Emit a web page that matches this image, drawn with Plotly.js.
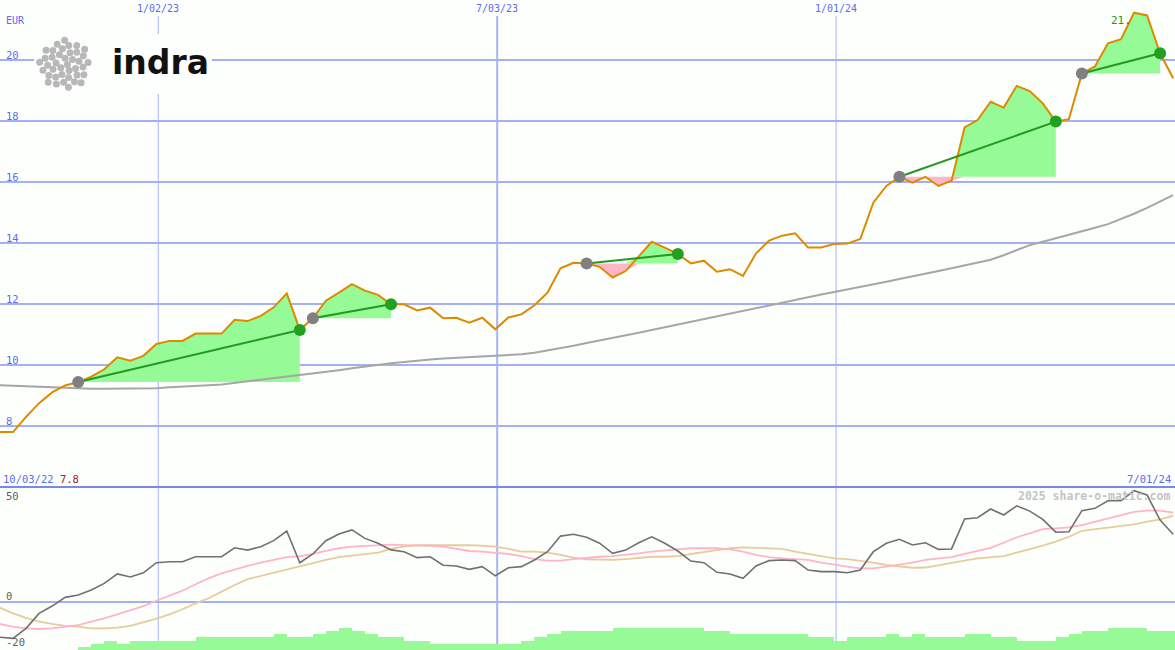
<!DOCTYPE html>
<html>
<head>
<meta charset="utf-8">
<script src="https://cdn.plot.ly/plotly-3.0.1.min.js"></script>
<style>
html,body{margin:0;padding:0;background:#fdfffd;}
#chart{width:1175px;height:650px;}
</style>
</head>
<body>
<div id="chart"></div>
<script>
// ---------- DATA ----------
const startDate = '2022-10-09';   // first weekly point
const weeks = 91;
const price = [7.80,7.80,8.30,8.75,9.10,9.33,9.44,9.62,9.86,10.25,
  10.14,10.30,10.69,10.79,10.79,11.03,11.03,11.03,11.48,11.44,
  11.61,11.89,12.35,11.15,11.53,12.11,12.37,12.65,12.44,12.30,
  11.99,11.99,11.79,11.88,11.53,11.55,11.39,11.55,11.17,11.56,
  11.66,11.96,12.37,13.17,13.35,13.33,13.22,12.87,13.08,13.55,
  14.04,13.85,13.64,13.33,13.42,13.06,13.14,12.92,13.66,14.08,
  14.24,14.32,13.85,13.85,13.97,13.98,14.13,15.32,15.87,16.17,
  15.98,16.17,15.87,16.04,17.79,18.03,18.63,18.44,19.15,18.98,
  18.58,17.98,18.06,19.56,19.79,20.55,20.68,21.55,21.46,20.22,
  19.40];
const movingAvg = [9.34,9.33,9.31,9.29,9.27,9.25,9.23,9.22,9.22,9.22,
  9.22,9.23,9.24,9.27,9.30,9.32,9.34,9.36,9.41,9.47,
  9.53,9.58,9.62,9.67,9.71,9.77,9.83,9.89,9.95,10.01,
  10.06,10.10,10.15,10.18,10.21,10.23,10.25,10.27,10.29,10.31,
  10.35,10.40,10.47,10.55,10.63,10.72,10.80,10.89,10.98,11.06,
  11.15,11.24,11.33,11.42,11.52,11.60,11.70,11.79,11.88,11.96,
  12.05,12.14,12.23,12.31,12.39,12.47,12.56,12.64,12.73,12.82,
  12.90,12.99,13.08,13.17,13.27,13.36,13.45,13.60,13.76,13.93,
  14.04,14.15,14.27,14.39,14.50,14.62,14.78,14.96,15.15,15.35,
  15.57];
const tradeEntries = [6, 24, 45, 69, 83];
const tradeExits   = [23, 30, 52, 81, 89];
const oscFast = [-15.5,-16.0,-11.6,-5.1,-1.9,1.9,2.9,5.1,8.0,12.1,
  10.8,12.6,17.0,17.4,17.4,19.6,19.6,19.6,23.5,22.5,
  24.0,26.6,30.8,17.0,20.8,26.6,29.5,31.3,27.6,25.5,
  22.6,21.8,19.2,19.6,15.9,15.6,14.1,15.3,11.3,14.8,
  15.3,18.2,21.8,28.6,29.4,28.1,25.5,21.1,22.5,25.7,
  28.3,25.5,22.1,17.7,17.0,12.8,12.1,10.2,15.6,17.9,
  18.2,17.9,13.8,13.1,13.1,12.6,13.8,21.8,25.5,27.2,
  24.7,25.7,22.8,23.0,36.1,36.6,40.4,37.8,41.8,39.5,
  35.9,30.3,30.5,39.7,40.7,44.0,44.0,48.4,46.5,35.6,
  29.4];
const oscPink = [-9.7,-10.9,-11.6,-11.9,-11.6,-10.9,-10.2,-8.7,-7.3,-5.5,
  -3.6,-1.9,0.4,2.5,4.8,7.6,10.2,12.4,14.1,15.6,
  17.0,18.2,19.4,19.9,20.8,22.2,23.3,24.0,24.4,24.7,
  24.9,24.7,24.7,24.4,24.0,23.0,22.1,21.8,21.4,20.8,
  19.9,18.6,17.9,17.9,18.6,19.2,19.6,19.9,20.4,21.1,
  21.8,22.2,22.8,23.3,23.3,23.3,22.8,21.8,20.4,19.4,
  18.9,18.5,18.2,17.0,16.0,15.3,14.5,14.5,15.3,16.0,
  17.0,18.2,18.9,19.4,20.8,22.2,23.5,25.7,28.1,29.8,
  31.6,32.0,32.4,33.4,34.9,36.4,37.8,39.2,39.7,39.7,
  38.8];
const oscTan = [-2.6,-5.1,-7.0,-8.7,-9.7,-10.5,-10.9,-11.6,-11.6,-11.3,
  -10.5,-9.1,-7.4,-5.5,-3.3,-0.7,1.5,4.4,7.3,9.8,
  11.2,12.6,14.1,15.6,16.7,18.2,19.4,20.1,20.5,21.4,
  23.0,24.0,24.6,24.7,24.7,24.7,24.7,24.4,24.0,23.0,
  21.8,21.8,21.4,20.4,19.2,18.5,18.2,18.2,18.6,19.2,
  19.6,19.6,19.9,20.8,21.8,22.5,23.3,23.7,23.5,23.3,
  23.0,21.8,20.8,19.9,18.9,18.6,17.9,17.0,16.0,15.3,
  14.8,14.9,16.0,17.0,17.9,18.9,19.4,19.9,21.4,22.8,
  24.4,26.2,28.3,30.9,31.6,32.0,32.7,33.7,34.9,35.9,
  37.4];
const barLevels = [null,null,null,null,null,null,1,2,3,2,
  3,3,3,3,3,4,4,4,4,4,
  4,5,4,4,5,6,7,6,5,4,
  4,3,3,2,2,2,2,2,2,2,
  3,4,5,6,6,6,6,7,7,7,
  7,7,7,7,6,6,5,5,5,5,
  5,5,4,4,3,4,4,4,5,4,
  5,4,4,4,5,5,4,4,3,3,
  3,4,5,6,6,7,7,7,6,6,
  6];
const gridDates = ['2023-01-02','2023-07-03','2024-01-01'];
const gridDateLabels = ['1/02/23','7/03/23','1/01/24'];
const priceTicks = [8,10,12,14,16,18,20];
const oscTicks = [50,0,-20];
const startLabel = '10/03/22', startPrice = '7.8', endLabel = '7/01/24';
const maxLabel = '21.';

// ---------- BUILD ----------
const W = 1175, H = 650;
const dates = [];
{
  const d0 = new Date(startDate + 'T00:00:00Z');
  for (let i = 0; i < weeks; i++) {
    const d = new Date(d0.getTime() + i * 7 * 86400000);
    dates.push(d.toISOString().slice(0, 10));
  }
}
const GREEN_FILL = '#96fa96', PINK_FILL = '#ffb6c8';
const traces = [];
tradeEntries.forEach((a, t) => {
  const b = tradeExits[t];
  const e = price[a];
  const xs = dates.slice(a, b + 1);
  const seg = price.slice(a, b + 1);
  const base = xs.map(() => e);
  traces.push({x: xs, y: base, mode: 'lines', line: {width: 0}, hoverinfo: 'skip', showlegend: false});
  traces.push({x: xs, y: seg.map(v => Math.max(v, e)), mode: 'lines', line: {width: 0},
    fill: 'tonexty', fillcolor: GREEN_FILL, hoverinfo: 'skip', showlegend: false});
  traces.push({x: xs, y: base, mode: 'lines', line: {width: 0}, hoverinfo: 'skip', showlegend: false});
  traces.push({x: xs, y: seg.map(v => Math.min(v, e)), mode: 'lines', line: {width: 0},
    fill: 'tonexty', fillcolor: PINK_FILL, hoverinfo: 'skip', showlegend: false});
});
traces.push({x: dates, y: movingAvg, mode: 'lines', line: {color: '#a6a6a6', width: 2}, showlegend: false});
traces.push({x: dates, y: price, mode: 'lines', line: {color: '#dd8a00', width: 2}, showlegend: false});
tradeEntries.forEach((a, t) => {
  const b = tradeExits[t];
  traces.push({x: [dates[a], dates[b]], y: [price[a], price[b]], mode: 'lines',
    line: {color: '#229922', width: 2}, showlegend: false});
});
traces.push({x: tradeEntries.map(i => dates[i]), y: tradeEntries.map(i => price[i]), mode: 'markers',
  marker: {color: '#808080', size: 12}, showlegend: false});
traces.push({x: tradeExits.map(i => dates[i]), y: tradeExits.map(i => price[i]), mode: 'markers',
  marker: {color: '#22a022', size: 12}, showlegend: false});
// lower panel
traces.push({x: dates, y: oscTan, yaxis: 'y2', mode: 'lines', line: {color: '#e6cc9c', width: 1.8}, showlegend: false});
traces.push({x: dates, y: oscPink, yaxis: 'y2', mode: 'lines', line: {color: '#ffb4c8', width: 1.8}, showlegend: false});
traces.push({x: dates, y: oscFast, yaxis: 'y2', mode: 'lines', line: {color: '#707070', width: 1.6}, showlegend: false});
traces.push({x: dates, y: barLevels, yaxis: 'y3', type: 'bar', marker: {color: GREEN_FILL, line: {width: 0}},
  width: 7 * 86400000, offset: 0, showlegend: false});

const split = 1 - 487 / H;
const px = x => x / W, py = y => 1 - y / H;
const LBL = '#5a6cf0', FONT = 'DejaVu Sans Mono';
const shapes = [];
gridDates.forEach((d, i) => {
  shapes.push({type: 'line', xref: 'x', yref: 'paper', x0: d, x1: d, y0: 0, y1: py(16),
    line: {color: '#a8b2f6', width: i === 1 ? 2 : 1}, layer: 'below'});
});
shapes.push({type: 'line', xref: 'paper', yref: 'paper', x0: 0, x1: 1, y0: split, y1: split,
  line: {color: '#7888ee', width: 2}});
// logo background & dots
shapes.push({type: 'rect', xref: 'paper', yref: 'paper', x0: px(34), x1: px(212), y0: py(94), y1: py(34),
  fillcolor: '#fdfffd', line: {width: 0}, layer: 'above'});
{
  const cx = 64.5, cy = 64.5, n = 40, c = 25.5 / Math.sqrt(n);
  for (let i = 0; i < n; i++) {
    const r = c * Math.sqrt(i + 0.5), th = i * 2.39996;
    const x = cx + r * Math.cos(th), y = cy + r * Math.sin(th);
    shapes.push({type: 'circle', xref: 'paper', yref: 'paper', x0: px(x - 3.5), x1: px(x + 3.5),
      y0: py(y + 3.5), y1: py(y - 3.5), fillcolor: '#b8b8b8', line: {width: 0}, layer: 'above'});
  }
}
const annotations = [];
gridDates.forEach((d, i) => annotations.push({x: d, xref: 'x', y: py(8), yref: 'paper', text: gridDateLabels[i],
  showarrow: false, xanchor: 'center', yanchor: 'middle', font: {family: FONT, size: 10, color: LBL}}));
priceTicks.forEach(v => annotations.push({x: px(4), xref: 'paper', y: v, yref: 'y', text: String(v), showarrow: false,
  xanchor: 'left', yanchor: 'middle', yshift: 5, font: {family: FONT, size: 10.5, color: LBL}}));
annotations.push({x: px(4), xref: 'paper', y: py(20), yref: 'paper', text: 'EUR', showarrow: false,
  xanchor: 'left', yanchor: 'middle', font: {family: FONT, size: 10, color: LBL}});
const oscShift = {50: -9, 0: 6, '-20': 6};
oscTicks.forEach(v => annotations.push({x: px(4), xref: 'paper', y: v, yref: 'y2', text: String(v), showarrow: false,
  xanchor: 'left', yanchor: 'middle', yshift: oscShift[v], font: {family: FONT, size: 10.5, color: '#606060'}}));
annotations.push({x: px(1), xref: 'paper', y: py(479), yref: 'paper', showarrow: false, xanchor: 'left', yanchor: 'middle',
  text: startLabel + ' <span style="color:#a02222">' + startPrice + '</span>', font: {family: FONT, size: 10.5, color: LBL}});
annotations.push({x: px(1173), xref: 'paper', y: py(479), yref: 'paper', showarrow: false, xanchor: 'right', yanchor: 'middle',
  text: endLabel, font: {family: FONT, size: 10.5, color: LBL}});
annotations.push({x: px(1172), xref: 'paper', y: py(496), yref: 'paper', showarrow: false, xanchor: 'right', yanchor: 'middle',
  text: '<b>2025 share-o-matic.com</b>', font: {family: FONT, size: 11.5, color: '#c4c4c4'}});
annotations.push({x: dates[87], xref: 'x', y: price[87], yref: 'y', showarrow: false, xanchor: 'right', yanchor: 'middle',
  xshift: -1, yshift: -8, text: maxLabel, font: {family: FONT, size: 11, color: '#229922'}});
annotations.push({x: px(110), xref: 'paper', y: py(63), yref: 'paper', showarrow: false, xanchor: 'left', yanchor: 'middle',
  text: '<b>indra</b>', font: {family: 'DejaVu Sans', size: 33, color: '#111111'}});

const layout = {
  width: W, height: H,
  margin: {l: 0, r: 0, t: 0, b: 0, pad: 0},
  paper_bgcolor: '#fdfffd', plot_bgcolor: '#fdfffd',
  showlegend: false, hovermode: false,
  xaxis: {type: 'date', range: ['2022-10-09', '2024-07-01'], showgrid: false, showticklabels: false,
    zeroline: false, showline: false, ticks: '', anchor: 'y2', fixedrange: true},
  yaxis: {domain: [split, 1], range: [6.0, 21.967], tickvals: priceTicks, showticklabels: false,
    gridcolor: '#a4b0f4', gridwidth: 2, zeroline: false, showline: false, ticks: '', fixedrange: true},
  yaxis2: {domain: [0, split], range: [-21.05, 50], tickvals: [0], showticklabels: false,
    gridcolor: '#a4b0f4', gridwidth: 2, zeroline: false, showline: false, ticks: '', fixedrange: true},
  yaxis3: {overlaying: 'y2', range: [0, 51.7], visible: false, fixedrange: true},
  bargap: 0,
  shapes: shapes,
  annotations: annotations
};
Plotly.newPlot('chart', traces, layout, {displayModeBar: false, staticPlot: true});
</script>
</body>
</html>
